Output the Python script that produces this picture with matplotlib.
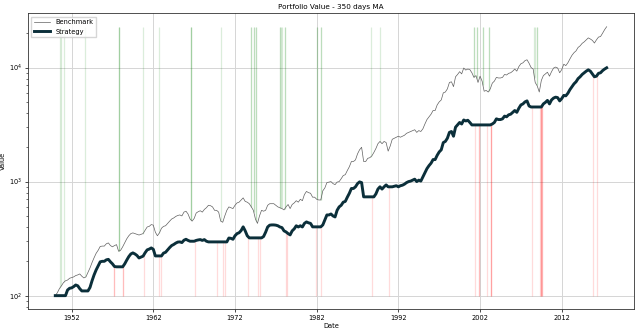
import numpy as np
import matplotlib
matplotlib.use("Agg")
import matplotlib.pyplot as plt

# quarterly sample dates, 1950.00 .. 2017.50
years = np.arange(1950, 2017.51, 0.25)

benchmark = [
    100, 106, 115, 122,
    130, 135, 137, 142,
    144, 146, 150, 152,
    155, 148, 143, 146,
    160, 175, 195, 215,
    235, 250, 270, 272,
    272, 285, 290, 275,
    268, 275, 280, 245,
    250, 268, 290, 315,
    335, 350, 355, 350,
    345, 340, 345, 350,
    375, 400, 405, 420,
    415, 360, 335, 355,
    390, 405, 410, 430,
    450, 470, 480, 495,
    505, 510, 500, 540,
    550, 520, 470, 450,
    475, 530, 545, 555,
    540, 570, 590, 620,
    615, 600, 560, 560,
    540, 450, 440, 500,
    560, 600, 590, 580,
    620, 650, 660, 690,
    720, 670, 660, 640,
    600, 560, 470, 430,
    500, 560, 550, 560,
    620, 640, 640, 640,
    620, 600, 590, 580,
    565, 600, 630, 580,
    630, 650, 680, 660,
    700, 680, 770, 820,
    800, 790, 730, 730,
    700, 690, 690, 830,
    880, 980, 990, 1000,
    960, 940, 990, 1000,
    1060, 1130, 1150, 1250,
    1350, 1500, 1500, 1550,
    1750, 1900, 2000, 1500,
    1500, 1600, 1620, 1680,
    1800, 1950, 2150, 2250,
    2150, 2250, 2200, 1850,
    2050, 2350, 2400, 2450,
    2500, 2450, 2500, 2550,
    2650, 2700, 2750, 2800,
    2850, 2700, 2800, 2750,
    2900, 3200, 3500, 3700,
    3900, 4200, 4200, 4700,
    5000, 5200, 6000, 6100,
    6500, 7400, 7500, 6800,
    8300, 8700, 9200, 8800,
    9900, 9500, 9700, 9600,
    9000, 8200, 8500, 7400,
    8400, 7600, 6200, 6300,
    6100, 6500, 7300, 7600,
    8200, 8100, 8100, 8200,
    8700, 8600, 8900, 9000,
    9300, 9700, 9300, 10200,
    10800, 11000, 11500, 11700,
    10900, 10000, 9700, 7400,
    6900, 6100, 7700, 8500,
    8800, 9100, 8400, 9200,
    9900, 10100, 9900, 9000,
    9600, 10700, 10400, 11000,
    11900, 12800, 13500, 14000,
    15000, 15500, 16300, 16800,
    17500, 18200, 17800, 17300,
    16400, 17500, 18500, 18700,
    20000, 21500, 22800,
]

strategy = [
    100, 100, 100, 100,
    100, 100, 112, 116,
    117, 120, 124, 122,
    115, 110, 110, 110,
    110, 118, 135, 152,
    168, 182, 198, 200,
    200, 206, 208, 198,
    190, 180, 179, 179,
    179, 179, 190, 205,
    220, 232, 237, 232,
    225, 214, 218, 222,
    238, 252, 256, 262,
    255, 223, 223, 223,
    223, 236, 240, 252,
    264, 275, 281, 289,
    295, 296, 292, 306,
    312, 305, 300, 300,
    300, 305, 308, 310,
    305, 310, 300, 296,
    296, 296, 296, 296,
    296, 296, 296, 296,
    296, 320, 318, 312,
    335, 350, 356, 372,
    401, 370, 335, 321,
    321, 321, 321, 321,
    321, 321, 330, 360,
    400, 415, 417, 417,
    415, 410, 400, 395,
    370, 362, 350, 341,
    370, 385, 410, 400,
    410, 400, 430, 443,
    435, 430, 401, 401,
    401, 401, 401, 417,
    460, 510, 510, 520,
    500, 490, 560, 600,
    620, 660, 670, 730,
    790, 870, 870, 900,
    960, 994, 980, 735,
    735, 735, 735, 735,
    735, 780, 860, 900,
    860, 900, 935, 900,
    900, 900, 910, 920,
    900, 920, 930, 950,
    980, 1000, 1010, 1030,
    1050, 1000, 1030, 1010,
    1100, 1200, 1300, 1380,
    1450, 1560, 1560, 1700,
    1820, 1900, 2200, 2250,
    2400, 2700, 2750, 2500,
    3000, 3150, 3300, 3200,
    3470, 3400, 3450, 3300,
    3140, 3140, 3140, 3140,
    3140, 3140, 3140, 3140,
    3140, 3140, 3200, 3300,
    3550, 3500, 3500, 3550,
    3750, 3700, 3850, 3900,
    4050, 4200, 4050, 4400,
    4700, 4800, 5000, 5100,
    4600, 4510, 4510, 4510,
    4510, 4510, 4510, 4800,
    4950, 5150, 4800, 5200,
    5400, 5500, 5450, 5100,
    5350, 5700, 5650, 5950,
    6400, 6800, 7200, 7500,
    8000, 8300, 8700, 9000,
    9300, 9550, 9300, 8800,
    8300, 8400, 8900, 9000,
    9400, 9700, 9950,
]

buy_dates = [
    1950.53, 1950.74, 1951.06, 1953.67,
    1957.79, 1957.81, 1957.83, 1960.70, 1962.70,
    1966.59, 1966.61, 1966.63, 1970.30,
    1973.99, 1974.01, 1974.29, 1974.31, 1974.59, 1974.61,
    1977.49, 1977.51, 1977.69, 1977.71, 1978.09, 1978.11,
    1982.06, 1982.08, 1982.49, 1982.51, 1988.60, 1989.70,
    2001.29, 2001.31, 2001.59, 2001.61, 2002.34, 2002.36, 2003.07, 2003.09,
    2008.66, 2008.68, 2008.94, 2008.96,
]

sell_dates = [
    1957.20, 1957.22, 1958.28, 1958.32, 1960.85, 1962.70, 1963.00,
    1967.05, 1969.80, 1970.50, 1970.80, 1973.60, 1974.80, 1975.10,
    1978.29, 1978.31, 1981.95, 1982.55, 1988.75, 1990.90,
    2001.40, 2001.89, 2001.91, 2002.80, 2003.33, 2003.35, 2003.37,
    2008.40, 2009.38, 2009.40, 2009.50, 2009.52, 2009.62, 2009.64,
    2015.80, 2016.30,
]

xticks = [1952, 1962, 1972, 1982, 1992, 2002, 2012]

bench = np.array(benchmark, dtype=float)
strat = np.array(strategy, dtype=float)

fig = plt.figure(figsize=(6.4, 3.32), dpi=100)
ax = fig.add_axes([0.0433, 0.069, 0.9477, 0.891])
fs = 4.8

ax.plot(years, bench, color="#606060", lw=0.5, label="Benchmark", zorder=3)
ax.plot(years, strat, color="#0b2f3a", lw=2.1, label="Strategy", zorder=4)

# buy signals: from the benchmark up to its peak
ax.vlines(buy_dates, np.interp(buy_dates, years, bench), bench.max(),
          color="g", alpha=0.14, lw=0.9, zorder=2)
# sell signals: from the floor up to the strategy
ax.vlines(sell_dates, strat.min(), np.interp(sell_dates, years, strat),
          color="r", alpha=0.14, lw=0.9, zorder=2)

ax.set_yscale("log")
ax.set_xticks(xticks)
ax.set_xticklabels([str(t) for t in xticks])
ax.margins(x=0.05, y=0.05)
ax.grid(True, which="major", color="#d5d5d5", lw=0.7)
ax.set_axisbelow(True)

ax.tick_params(labelsize=fs, length=2, width=0.5, pad=2)
ax.tick_params(which="minor", length=1.2, width=0.4)
for s in ax.spines.values():
    s.set_linewidth(0.6)
    s.set_color("#333333")

ax.set_title("Portfolio Value - 350 days MA", fontsize=fs + 0.4, pad=3)
ax.set_xlabel("Date", fontsize=fs, labelpad=2)
ax.set_ylabel("Value", fontsize=fs, labelpad=2)
ax.legend(loc="upper left", fontsize=fs, frameon=True, fancybox=False,
          edgecolor="#cccccc", handlelength=2.5, borderpad=0.4)

fig.savefig("out.png", dpi=100)
